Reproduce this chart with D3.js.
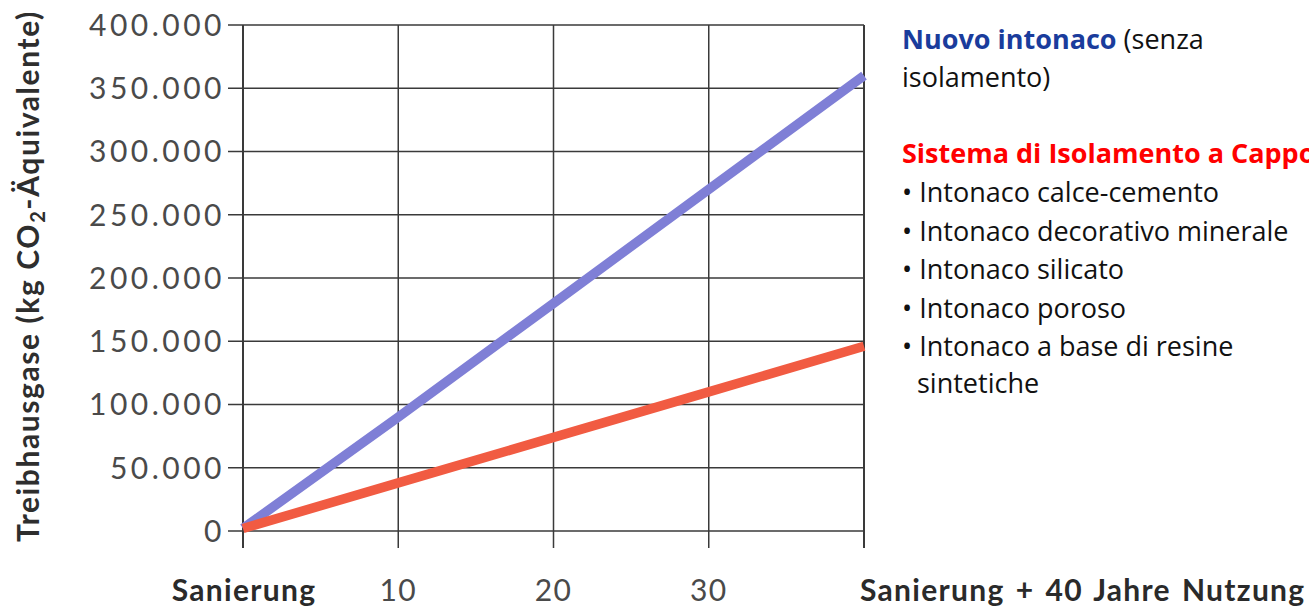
<!DOCTYPE html>
<html><head><meta charset="utf-8">
<script src="https://cdn.jsdelivr.net/npm/d3@7"></script>
<style>
html,body{margin:0;padding:0;background:#fff;}
svg{display:block;}
</style></head>
<body>
<svg id="chart" width="1309" height="610"></svg>
<script>
const years = [0, 10, 20, 30, 40];
const xTickLabels = ["Sanierung", "10", "20", "30", "Sanierung + 40 Jahre Nutzung"];
const yTicks = [0, 50000, 100000, 150000, 200000, 250000, 300000, 350000, 400000];
const yTickLabels = ["0", "50.000", "100.000", "150.000", "200.000", "250.000", "300.000", "350.000", "400.000"];
const nuovoIntonaco = [2000, 90000, 180000, 270000, 360000];
const cappotto = [2000, 38000, 74000, 110000, 146000];
const seriesNames = ["Nuovo intonaco", "Sistema di Isolamento a Cappotto"];
const legendBullets = ["Intonaco calce-cemento", "Intonaco decorativo minerale", "Intonaco silicato", "Intonaco poroso", "Intonaco a base di resine"];

const svg = d3.select("#chart");
const x = d3.scaleLinear().domain([0, 40]).range([243, 864]);
const y = d3.scaleLinear().domain([0, 400000]).range([531, 25]);

const axisFont = "Lato, 'Open Sans', sans-serif";

// grid
const g = svg.append("g");
g.selectAll("line.h").data(yTicks).join("line")
  .attr("x1", 228).attr("x2", x(40))
  .attr("y1", d => y(d)).attr("y2", d => y(d))
  .attr("stroke", "#3a3a3a").attr("stroke-width", 1.5);
g.selectAll("line.v").data(years).join("line")
  .attr("x1", d => x(d)).attr("x2", d => x(d))
  .attr("y1", y(400000)).attr("y2", 548)
  .attr("stroke", "#3a3a3a").attr("stroke-width", d => (d === 0 || d === 40) ? 2 : 1.5);

// y tick labels
g.selectAll("text.yl").data(yTicks).join("text")
  .attr("x", 225).attr("y", d => y(d))
  .attr("dy", "0.36em")
  .attr("text-anchor", "end")
  .attr("font-family", axisFont).attr("font-size", 30)
  .attr("letter-spacing", 3.5)
  .attr("fill", "#4a4a4a")
  .text((d, i) => yTickLabels[i]);

// x tick labels
g.selectAll("text.xl").data(years).join("text")
  .attr("x", (d, i) => i === 0 ? 244 : (i === 4 ? 860 : x(d)))
  .attr("y", 601)
  .attr("text-anchor", (d, i) => i === 4 ? "start" : "middle")
  .attr("font-family", axisFont)
  .attr("font-size", 30)
  .attr("letter-spacing", 1.3)
  .attr("word-spacing", 2.5)
  .attr("font-weight", (d, i) => (i === 0 || i === 4) ? 700 : 400)
  .attr("fill", (d, i) => (i === 0 || i === 4) ? "#2a2a2a" : "#4a4a4a")
  .text((d, i) => xTickLabels[i]);

// y axis title
const yt = svg.append("text")
  .attr("transform", "translate(39,276) rotate(-90)")
  .attr("text-anchor", "middle")
  .attr("font-family", axisFont).attr("font-size", 30).attr("font-weight", 700)
  .attr("letter-spacing", 1.6)
  .attr("fill", "#2e2e2e");
yt.append("tspan").text("Treibhausgase (kg CO");
yt.append("tspan").attr("font-size", 20).attr("dy", 6).text("2");
yt.append("tspan").attr("dy", -6).text("-Äquivalente)");

// lines
const line = d3.line().x((d, i) => x(years[i])).y(d => y(d));
svg.append("path").datum(nuovoIntonaco).attr("d", line)
  .attr("fill", "none").attr("stroke", "#7f7fd6").attr("stroke-width", 9.5);
svg.append("path").datum(cappotto).attr("d", line)
  .attr("fill", "none").attr("stroke", "#f15b42").attr("stroke-width", 9.5);

// legend
const lf = "'Open Sans', 'Noto Sans', sans-serif";
const lg = svg.append("g").attr("font-family", lf).attr("font-size", 27);
const t1 = lg.append("text").attr("x", 902).attr("y", 49);
t1.append("tspan").attr("font-weight", 700).attr("fill", "#1a3c9c").text(seriesNames[0]);
t1.append("tspan").attr("fill", "#111").text(" (senza");
lg.append("text").attr("x", 902).attr("y", 87).attr("fill", "#111").text("isolamento)");
lg.append("text").attr("x", 902).attr("y", 163).attr("font-weight", 700).attr("fill", "#ff0000").text(seriesNames[1]);
lg.selectAll("text.b").data(legendBullets).join("text")
  .attr("x", 902).attr("y", (d, i) => 202 + i * 38.5)
  .attr("fill", "#111")
  .text(d => "\u2022 " + d);
lg.append("text").attr("x", 917).attr("y", 393).attr("fill", "#111").text("sintetiche");
</script>
</body></html>
